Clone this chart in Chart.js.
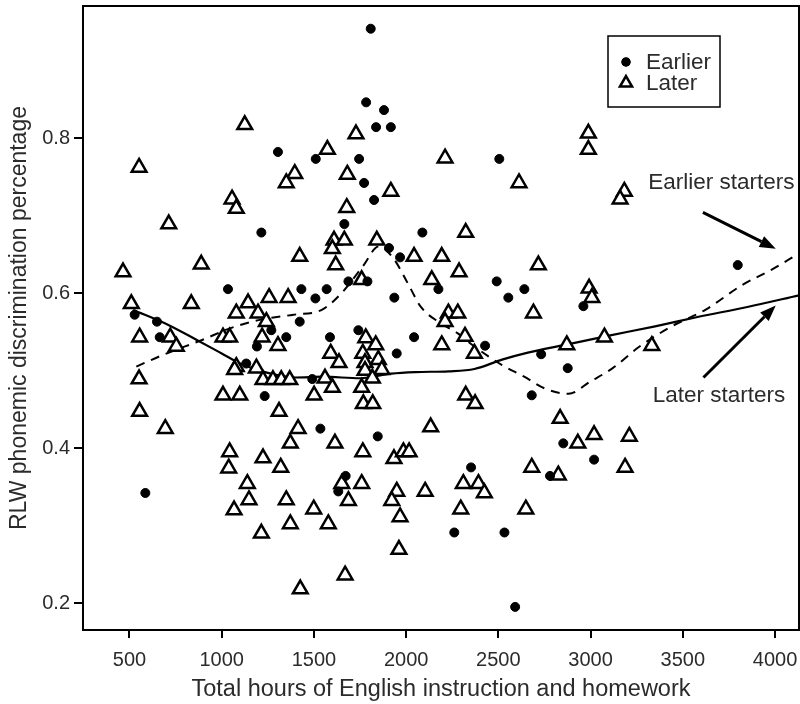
<!DOCTYPE html>
<html>
<head>
<meta charset="utf-8">
<title>RLW phonemic discrimination</title>
<script src="https://cdn.jsdelivr.net/npm/chart.js@4.4.1/dist/chart.umd.min.js"></script>
<style>
  html, body { margin: 0; padding: 0; background: #fff; }
  #wrap { width: 800px; height: 704px; }
</style>
</head>
<body>
<div id="wrap"><canvas id="chart" width="800" height="704"></canvas></div>
<script>
// --- data ---
const xTicks = [500, 1000, 1500, 2000, 2500, 3000, 3500, 4000];
const yTicks = [0.2, 0.4, 0.6, 0.8];

const earlierHours = [1305,1510,1215,1034,1432,1508,1423,528,649,664,1269,1350,1191,1133,1491,1233,1535,586,1808,1783,1880,1837,1917,1745,2505,1772,1826,1665,2088,1907,1967,1687,1790,1569,1936,2175,2491,2554,2641,1587,1741,2043,1949,2428,2732,2681,1846,2352,1672,1632,2261,2533,2591,2780,2852,3798,2961,2876,3019];
const earlierScore = [0.782,0.773,0.678,0.605,0.605,0.593,0.563,0.572,0.563,0.543,0.552,0.543,0.531,0.509,0.489,0.467,0.425,0.342,0.941,0.846,0.836,0.814,0.814,0.773,0.773,0.742,0.720,0.689,0.678,0.658,0.646,0.615,0.615,0.605,0.594,0.605,0.615,0.594,0.605,0.543,0.552,0.543,0.522,0.532,0.521,0.468,0.415,0.375,0.364,0.344,0.291,0.291,0.195,0.364,0.406,0.636,0.583,0.503,0.385];

const laterHours = [1125,552,1396,1350,1056,1079,713,1423,889,465,1257,1360,510,835,1143,1079,1197,1242,555,721,754,1007,1043,1219,1305,1079,1070,1188,552,1224,1278,1323,1369,1007,1098,1501,555,1311,694,1414,1372,1043,1224,1038,1320,1139,1148,1067,1350,1499,1372,1215,1426,1728,1573,2211,1681,2612,1917,1678,2323,1609,1665,1841,1600,2043,2193,1618,2717,2287,1759,2139,2229,2280,2211,2690,1781,1835,2193,2319,2370,1591,1636,1765,1777,1849,1868,1777,1817,1560,1600,1759,1768,1819,2323,2374,2133,1614,1765,1934,1985,2016,1651,1759,1687,1949,1922,2103,2310,2392,2424,2296,2649,2681,2825,2835,1578,1967,1961,1669,2988,2988,3183,3160,2992,3007,2871,3075,3332,2931,3019,3210,3187];
const laterScore = [0.817,0.762,0.754,0.742,0.721,0.709,0.689,0.647,0.637,0.627,0.594,0.594,0.586,0.586,0.587,0.574,0.574,0.563,0.543,0.543,0.531,0.543,0.543,0.543,0.532,0.505,0.501,0.503,0.489,0.488,0.488,0.488,0.488,0.468,0.468,0.468,0.447,0.447,0.425,0.425,0.406,0.395,0.387,0.374,0.375,0.354,0.333,0.320,0.333,0.321,0.302,0.290,0.218,0.805,0.785,0.774,0.753,0.742,0.731,0.710,0.678,0.668,0.668,0.668,0.657,0.647,0.647,0.636,0.636,0.627,0.617,0.617,0.574,0.574,0.563,0.574,0.542,0.533,0.533,0.544,0.522,0.522,0.510,0.522,0.510,0.514,0.501,0.500,0.490,0.490,0.478,0.478,0.457,0.457,0.468,0.457,0.427,0.406,0.395,0.386,0.395,0.395,0.354,0.354,0.332,0.344,0.332,0.344,0.354,0.354,0.342,0.321,0.321,0.375,0.365,0.438,0.302,0.311,0.269,0.236,0.806,0.785,0.731,0.721,0.606,0.594,0.533,0.543,0.532,0.406,0.417,0.415,0.375];

// smoothed trend lines
const earlierCurveHours = [537,680,900,1040,1200,1390,1540,1650,1770,1850,1930,2010,2080,2180,2280,2370,2520,2640,2750,2880,3000,3120,3260,3440,3620,3820,3980,4130];
const earlierCurveScore = [0.505,0.520,0.540,0.554,0.565,0.572,0.578,0.600,0.636,0.660,0.645,0.612,0.582,0.562,0.548,0.531,0.507,0.492,0.477,0.470,0.486,0.503,0.530,0.557,0.578,0.610,0.630,0.651];
const laterCurveHours = [520,700,860,1000,1100,1250,1400,1550,1750,1920,2050,2230,2370,2520,2660,2860,3100,3350,3580,3850,4130];
const laterCurveScore = [0.578,0.560,0.540,0.522,0.509,0.497,0.491,0.492,0.490,0.496,0.498,0.499,0.502,0.514,0.523,0.533,0.545,0.557,0.569,0.582,0.597];

// labels with arrows, in data units
const annotations = [
  { text: 'Earlier starters', at: [3312, 0.742], from: [3609, 0.704], to: [4004, 0.657] },
  { text: 'Later starters', at: [3337, 0.467], from: [3612, 0.491], to: [4004, 0.584] }
];

const FONT = '"Liberation Sans", Arial, Helvetica, sans-serif';
const TEXT_COLOR = '#2b2b2b';

const toPoints = (xs, ys) => xs.map((x, i) => ({ x: x, y: ys[i] }));

// --- plugins ---

// black box round the plot area
const framePlugin = {
  id: 'frame',
  afterDraw(chart) {
    const { ctx, chartArea: a } = chart;
    ctx.save();
    ctx.strokeStyle = '#000';
    ctx.lineWidth = 2;
    ctx.strokeRect(a.left, a.top, a.right - a.left, a.bottom - a.top);
    ctx.restore();
  }
};

// boxed legend in the upper right
const legendBoxPlugin = {
  id: 'legendBox',
  afterDraw(chart) {
    const { ctx, chartArea: a } = chart;
    const left = a.right - 191, top = a.top + 30;
    ctx.save();
    ctx.strokeStyle = '#000';
    ctx.lineWidth = 1.5;
    ctx.strokeRect(left, top, 112, 71);
    const rows = [chart.data.datasets[0], chart.data.datasets[1]];
    rows.forEach((ds, i) => {
      const y = top + 26 + i * 21;
      Chart.helpers.drawPoint(ctx, {
        pointStyle: ds.pointStyle,
        radius: ds.pointStyle === 'triangle' ? 7 : 4,
        borderWidth: ds.borderWidth,
        rotation: 0
      }, left + 18, y);
      ctx.fillStyle = ds.backgroundColor;
      ctx.strokeStyle = ds.borderColor;
      ctx.lineWidth = ds.borderWidth;
      ctx.fill();
      ctx.stroke();
      ctx.fillStyle = TEXT_COLOR;
      ctx.font = '22.5px ' + FONT;
      ctx.textBaseline = 'middle';
      ctx.textAlign = 'left';
      ctx.fillText(ds.label, left + 38, y + 1);
    });
    ctx.restore();
  }
};

// "Earlier starters" / "Later starters" with arrows
const arrowPlugin = {
  id: 'arrows',
  afterDraw(chart) {
    const { ctx } = chart;
    const xs = chart.scales.x, ys = chart.scales.y;
    ctx.save();
    annotations.forEach(an => {
      const tx = xs.getPixelForValue(an.at[0]), ty = ys.getPixelForValue(an.at[1]);
      ctx.fillStyle = TEXT_COLOR;
      ctx.font = '22.5px ' + FONT;
      ctx.textAlign = 'left';
      ctx.textBaseline = 'middle';
      ctx.fillText(an.text, tx, ty);

      const x1 = xs.getPixelForValue(an.from[0]), y1 = ys.getPixelForValue(an.from[1]);
      const x2 = xs.getPixelForValue(an.to[0]), y2 = ys.getPixelForValue(an.to[1]);
      const ang = Math.atan2(y2 - y1, x2 - x1);
      const head = 16, half = 6;
      const bx = x2 - head * Math.cos(ang), by = y2 - head * Math.sin(ang);
      ctx.strokeStyle = '#000';
      ctx.lineWidth = 3;
      ctx.beginPath();
      ctx.moveTo(x1, y1);
      ctx.lineTo(bx, by);
      ctx.stroke();
      ctx.fillStyle = '#000';
      ctx.beginPath();
      ctx.moveTo(x2, y2);
      ctx.lineTo(bx + half * Math.sin(ang), by - half * Math.cos(ang));
      ctx.lineTo(bx - half * Math.sin(ang), by + half * Math.cos(ang));
      ctx.closePath();
      ctx.fill();
    });
    ctx.restore();
  }
};

// --- chart ---
new Chart(document.getElementById('chart').getContext('2d'), {
  type: 'scatter',
  data: {
    datasets: [
      {
        label: 'Earlier',
        data: toPoints(earlierHours, earlierScore),
        pointStyle: 'circle',
        pointRadius: 4.5,
        backgroundColor: '#000',
        borderColor: '#000',
        borderWidth: 1,
        order: 1
      },
      {
        label: 'Later',
        data: toPoints(laterHours, laterScore),
        pointStyle: 'triangle',
        pointRadius: 8.5,
        backgroundColor: '#fff',
        borderColor: '#000',
        borderWidth: 2.5,
        order: 2
      },
      {
        label: 'Earlier starters',
        data: toPoints(earlierCurveHours, earlierCurveScore),
        showLine: true,
        pointRadius: 0,
        borderColor: '#000',
        borderWidth: 2,
        borderDash: [9, 7],
        cubicInterpolationMode: 'monotone',
        fill: false,
        order: 3
      },
      {
        label: 'Later starters',
        data: toPoints(laterCurveHours, laterCurveScore),
        showLine: true,
        pointRadius: 0,
        borderColor: '#000',
        borderWidth: 2.2,
        cubicInterpolationMode: 'monotone',
        fill: false,
        order: 4
      }
    ]
  },
  options: {
    responsive: false,
    animation: false,
    devicePixelRatio: 1,
    layout: { autoPadding: false, padding: { top: 6, right: 1, left: 0, bottom: 0 } },
    scales: {
      x: {
        type: 'linear',
        min: 248,
        max: 4130,
        afterFit: (scale) => {
          scale.height = 74;
          scale.paddingLeft = 0;
          scale.paddingRight = 0;
        },
        afterBuildTicks: (scale) => { scale.ticks = xTicks.map(v => ({ value: v })); },
        grid: { drawOnChartArea: false, drawTicks: true, tickLength: 8, color: '#000', lineWidth: 2 },
        border: { display: false },
        ticks: {
          color: TEXT_COLOR,
          font: { family: FONT, size: 20 },
          padding: 10,
          maxRotation: 0,
          callback: (v) => String(v)
        },
        title: {
          display: true,
          text: 'Total hours of English instruction and homework',
          color: TEXT_COLOR,
          font: { family: FONT, size: 23.5 },
          padding: { top: 0, bottom: 0 }
        }
      },
      y: {
        type: 'linear',
        min: 0.1652,
        max: 0.9703,
        afterFit: (scale) => {
          scale.width = 83;
          scale.paddingTop = 0;
          scale.paddingBottom = 0;
        },
        afterBuildTicks: (scale) => { scale.ticks = yTicks.map(v => ({ value: v })); },
        grid: { drawOnChartArea: false, drawTicks: true, tickLength: 9, color: '#000', lineWidth: 2 },
        border: { display: false },
        ticks: {
          color: TEXT_COLOR,
          font: { family: FONT, size: 20 },
          padding: 4,
          callback: (v) => v.toFixed(1)
        },
        title: {
          display: true,
          text: 'RLW phonemic discrimination percentage',
          color: TEXT_COLOR,
          font: { family: FONT, size: 23 },
          padding: { top: 6, bottom: 0 }
        }
      }
    },
    plugins: {
      legend: { display: false },
      tooltip: { enabled: false }
    }
  },
  plugins: [framePlugin, legendBoxPlugin, arrowPlugin]
});
</script>
</body>
</html>
